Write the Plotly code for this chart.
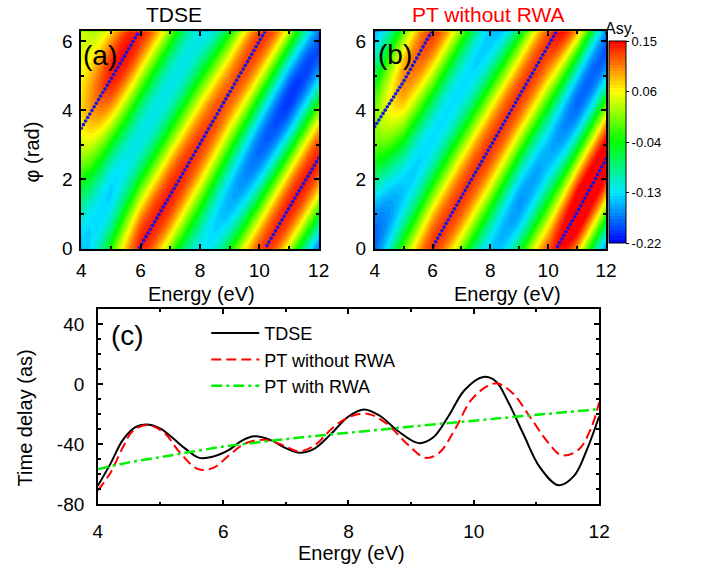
import numpy as np
import plotly.graph_objects as go

# ---------------- data ----------------
# energy nodes (eV) at which the asymmetry-map parameters were read
energy_nodes = [4, 5, 6, 7, 8, 9, 10, 11, 12]

# panel (a) TDSE: phase of maximum asymmetry (unwrapped, rad), mean, amplitude, tilt
peak_phase_a = [-2.80, -1.38, 0.08, 1.55, 3.03, 4.52, 6.00, 7.46, 8.90]
mean_a = [0.000, 0.000, 0.010, 0.010, 0.005, -0.015, -0.025, -0.030, -0.025]
amp_a = [0.050, 0.115, 0.130, 0.130, 0.125, 0.135, 0.155, 0.170, 0.165]
tilt_a = [0.030, 0.015, 0.0, 0.0, 0.0, 0.0, 0.0, 0.0, 0.0]

# panel (b) PT without RWA
peak_phase_b = [-2.75, -1.45, 0.04, 1.50, 2.95, 4.41, 5.87, 7.33, 8.87]
mean_b = [-0.080, -0.020, 0.000, 0.000, -0.005, -0.015, -0.010, 0.000, -0.005]
amp_b = [0.090, 0.120, 0.130, 0.130, 0.135, 0.145, 0.140, 0.180, 0.180]
tilt_b = [0.005, 0.0, 0.0, 0.0, 0.0, 0.0, 0.0, 0.0, 0.0]

# panel (c) time delays (as)
tdse_E = [4.0, 4.2, 4.4, 4.6, 4.77, 5.0, 5.2, 5.4, 5.62, 5.85, 6.1, 6.3, 6.5, 6.75,
          7.0, 7.22, 7.45, 7.7, 8.0, 8.25, 8.5, 8.8, 9.12, 9.35, 9.6, 9.85, 10.15,
          10.35, 10.55, 10.8, 11.05, 11.35, 11.6, 11.8, 12.0]
tdse_T = [-67.6, -53, -37, -28.5, -26.8, -29.5, -36, -43, -49, -48, -43.5, -37.5, -34.7, -37,
          -42.5, -45.6, -43, -34, -21.5, -16.8, -21, -31.5, -39.2, -35.5, -21, -4, 4.8,
          2, -12, -34, -55, -67.2, -61, -44, -21.5]
pt_E = [4.0, 4.2, 4.4, 4.55, 4.78, 5.05, 5.3, 5.6, 5.85, 6.1, 6.35, 6.65, 6.95, 7.2,
        7.45, 7.75, 8.0, 8.3, 8.6, 8.95, 9.23, 9.45, 9.7, 9.95, 10.2, 10.38, 10.62,
        10.9, 11.18, 11.4, 11.67, 11.88, 12.0]
pt_T = [-70.8, -59, -42, -31.5, -27.2, -32, -45, -56.5, -55.5, -47, -39.5, -37, -40.5, -44.7,
        -41, -29, -22, -19.6, -26, -40.3, -49, -45.5, -30, -11, -1.7, 0.5, -6,
        -22, -38.5, -47.3, -43.6, -28.3, -12]
rwa_E = [4, 4.5, 5, 5.5, 6, 6.5, 7, 7.5, 8, 8.5, 9, 9.5, 10, 10.5, 11, 11.5, 12]
rwa_T = [-56.5, -52, -48.5, -45, -41.5, -39, -36.5, -34.3, -32.3, -30.3, -28.2, -26.2,
         -24.3, -22.3, -20.4, -18.5, -16.7]

cbar_vals = [-0.22, -0.1275, -0.035, 0.0575, 0.15]
cbar_text = ['-0.22', '-0.13', '-0.04', '0.06', '0.15']
ytick_c_vals = [-80, -40, 0, 40]
ytick_c_text = ['-80', '-40', '0', '40']

# ---------------- build the maps ----------------
E_grid = np.linspace(4, 12, 161)
phi_grid = np.linspace(0, 2 * np.pi, 73)


def asym_map(mean, amp, peak, tilt):
    c = np.interp(E_grid, energy_nodes, mean)
    a = np.interp(E_grid, energy_nodes, amp)
    p = np.interp(E_grid, energy_nodes, peak)
    t = np.interp(E_grid, energy_nodes, tilt)
    ph = phi_grid[:, None]
    return c[None, :] + a[None, :] * np.cos(ph - p[None, :]) + t[None, :] * (ph - np.pi)


dot_E = np.linspace(4, 12, 111)


def ridge(peak):
    return np.mod(np.interp(dot_E, energy_nodes, peak), 2 * np.pi)


W, H = 702, 576
px = lambda v: v / W
py = lambda v: 1 - v / H

cscale = [[0, 'rgb(0,0,255)'], [0.125, 'rgb(0,120,255)'], [0.25, 'rgb(0,230,255)'],
          [0.5, 'rgb(0,255,0)'], [0.75, 'rgb(255,255,0)'], [0.875, 'rgb(255,128,0)'],
          [1, 'rgb(255,0,0)']]
levels = dict(start=-0.22, end=0.15, size=0.37 / 60, coloring='fill', showlines=False)

fig = go.Figure()
fig.add_trace(go.Contour(x=E_grid, y=phi_grid, z=asym_map(mean_a, amp_a, peak_phase_a, tilt_a),
                         colorscale=cscale, zmin=-0.22, zmax=0.15, autocontour=False,
                         contours=levels, line=dict(width=0), showscale=False,
                         xaxis='x', yaxis='y', hoverinfo='skip'))
fig.add_trace(go.Contour(x=E_grid, y=phi_grid, z=asym_map(mean_b, amp_b, peak_phase_b, tilt_b),
                         colorscale=cscale, zmin=-0.22, zmax=0.15, autocontour=False,
                         contours=levels, line=dict(width=0), showscale=True,
                         colorbar=dict(x=px(618), xanchor='left', y=py(145), yanchor='middle',
                                       len=206 / H, thickness=17, xpad=0, ypad=0,
                                       outlinecolor='black', outlinewidth=1,
                                       tickmode='array', tickvals=cbar_vals, ticktext=cbar_text,
                                       ticks='outside', ticklen=3, tickcolor='black',
                                       tickfont=dict(size=13, color='black')),
                         xaxis='x2', yaxis='y2', hoverinfo='skip'))

dot_style = dict(mode='markers', marker=dict(color='rgb(20,20,230)', size=3.6), showlegend=False,
                 hoverinfo='skip')
fig.add_trace(go.Scatter(x=dot_E, y=ridge(peak_phase_a), xaxis='x', yaxis='y', **dot_style))
fig.add_trace(go.Scatter(x=dot_E, y=ridge(peak_phase_b), xaxis='x2', yaxis='y2', **dot_style))

fig.add_trace(go.Scatter(x=tdse_E, y=tdse_T, mode='lines', name='TDSE',
                         line=dict(color='black', width=2, shape='spline', smoothing=1.0),
                         xaxis='x3', yaxis='y3'))
fig.add_trace(go.Scatter(x=pt_E, y=pt_T, mode='lines', name='PT without RWA',
                         line=dict(color='rgb(255,0,0)', width=2, dash='10px,5px', shape='spline',
                                   smoothing=1.0),
                         xaxis='x3', yaxis='y3'))
fig.add_trace(go.Scatter(x=rwa_E, y=rwa_T, mode='lines', name='PT with RWA',
                         line=dict(color='rgb(0,240,0)', width=2.5, dash='11px,4px,3px,4px',
                                   shape='spline'),
                         xaxis='x3', yaxis='y3'))

ax = dict(showline=True, linecolor='black', linewidth=1.5, mirror='allticks', ticks='inside',
          ticklen=5, tickwidth=1.5, tickcolor='black', showgrid=False, zeroline=False,
          tickfont=dict(family='Liberation Sans, Arial, sans-serif', size=19, color='black'),
          minor=dict(ticks='inside', ticklen=3, tickwidth=1.5, tickcolor='black', dtick=1,
                     showgrid=False))

fig.update_layout(
    width=W, height=H, margin=dict(l=0, r=0, t=0, b=0),
    paper_bgcolor='white', plot_bgcolor='white',
    font=dict(family='Liberation Sans, Arial, sans-serif', color='black'),
    xaxis=dict(ax, domain=[px(78), px(321)], range=[4, 12], dtick=2, anchor='y',
               ticklabelstandoff=4),
    yaxis=dict(ax, domain=[py(253.5), py(32)], range=[0, 2 * np.pi], dtick=2, anchor='x',
               ticklabelstandoff=3),
    xaxis2=dict(ax, domain=[px(378.3), px(615)], range=[4, 12], dtick=2, anchor='y2',
                ticklabelstandoff=4),
    yaxis2=dict(ax, domain=[py(253.5), py(32)], range=[0, 2 * np.pi], dtick=2, anchor='x2',
                ticklabelstandoff=3),
    xaxis3=dict(ax, domain=[px(95), px(608)], range=[4, 12], dtick=2, anchor='y3',
                ticklabelstandoff=9),
    yaxis3=dict(ax, domain=[py(514.3), py(315)], range=[-80, 50], tickmode='array',
                tickvals=ytick_c_vals, ticktext=ytick_c_text, anchor='x3', ticklabelstandoff=8,
                minor=dict(ticks='inside', ticklen=3, tickwidth=1.5, tickcolor='black',
                           dtick=10, showgrid=False)),
    legend=dict(x=px(206), y=py(321), xanchor='left', yanchor='top', bgcolor='rgba(0,0,0,0)',
                font=dict(size=18, color='black'), itemwidth=48, tracegroupgap=0),
    showlegend=True,
)


def note(text, x, y, size, color='black', angle=0, xanchor='center'):
    fig.add_annotation(text=text, x=px(x), y=py(y), xref='paper', yref='paper',
                       showarrow=False, xanchor=xanchor, yanchor='middle', textangle=angle,
                       font=dict(size=size, color=color))


note('TDSE', 173, 15, 21)
note('PT without RWA', 495, 15, 21, color='rgb(255,0,0)')
note('Asy.', 629, 29, 16)
note('(a)', 78, 57, 28, xanchor='left')
note('(b)', 380, 56, 28, xanchor='left')
note('(c)', 106, 342, 28, xanchor='left')
note('Energy (eV)', 201, 300, 20)
note('Energy (eV)', 514, 300, 20)
note('Energy (eV)', 355, 564, 20)
note('φ (rad)', 28, 155, 20, angle=-90)
note('Time delay (as)', 20, 426, 20, angle=-90)

fig.write_html('out.html')
